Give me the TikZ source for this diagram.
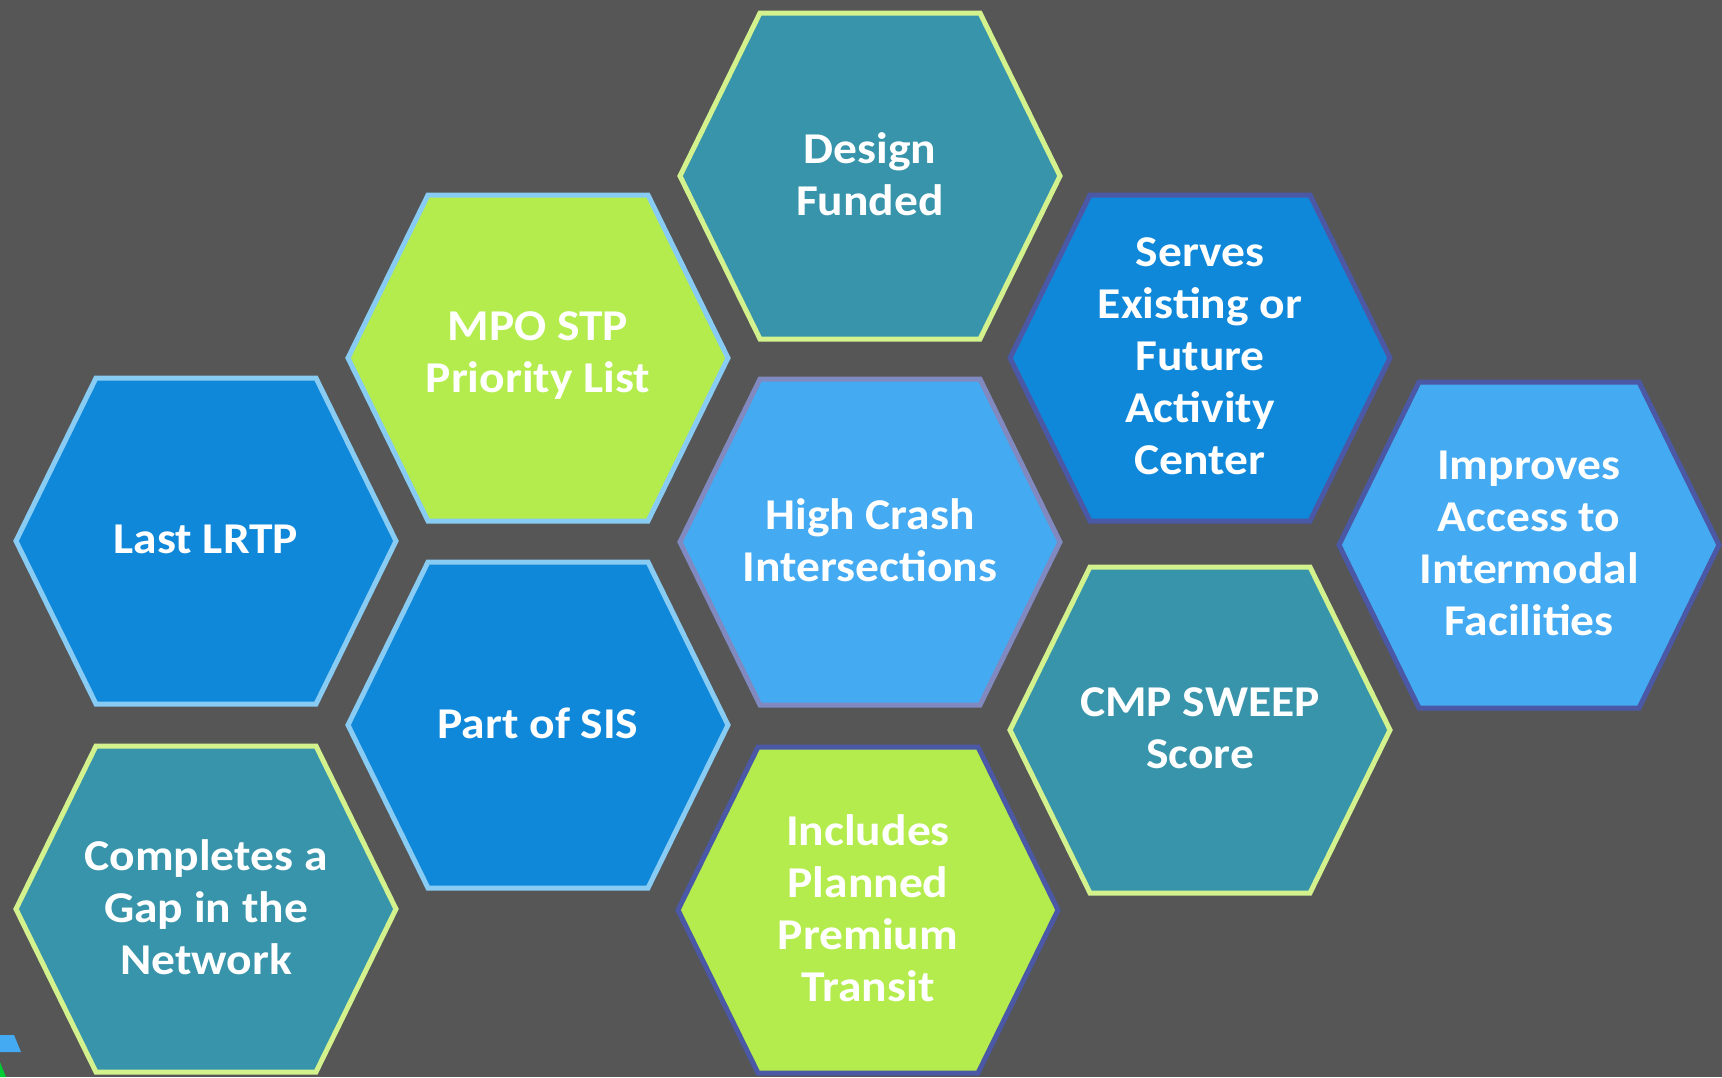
\documentclass[tikz,border=0pt]{standalone}
\usepackage{fontspec}
\setmainfont{Carlito}[FakeStretch=1.08]
\definecolor{bgc}{HTML}{565656}
\definecolor{tealf}{HTML}{3794AA}
\definecolor{limef}{HTML}{B4EC4E}
\definecolor{darkbf}{HTML}{1088DA}
\definecolor{lightbf}{HTML}{44AAF2}
\definecolor{yellowb}{HTML}{D3F28E}
\definecolor{skyb}{HTML}{88CCF4}
\definecolor{navyb}{HTML}{4B58A5}
\definecolor{lavb}{HTML}{8189C1}
\tikzset{
  hexline/.style={line width=5pt, line join=miter},
  hextext/.style={text=white, align=center, font=\fontsize{44}{52}\selectfont\bfseries, inner sep=0pt}
}
\newcommand\hexcell[6]{%
  \draw[hexline, draw=#5, fill=#4] (#2,#3) +(-190,0) -- +(-110,-163) -- +(110,-163) -- +(190,0) -- +(110,163) -- +(-110,163) -- cycle;
  \node[hextext] (#1) at ([yshift=2pt]#2,#3) {#6};}
\begin{document}
\begin{tikzpicture}[x=1pt,y=-1pt]
\fill[bgc] (0,0) rectangle (1722,1077);
\useasboundingbox (0,0) rectangle (1722,1077);
% small fragment at the lower left edge
\fill[lightbf] (0,1035) -- (14,1035) -- (21,1052) -- (0,1052) -- cycle;
\fill[green!60!teal] (0,1062) -- (6,1077) -- (0,1077) -- cycle;
\hexcell{design}{870}{176}{tealf}{yellowb}{Design\\Funded}
\hexcell{mpo}{538}{358}{limef}{skyb}{MPO STP\\Priority List}
\hexcell{lrtp}{206}{541}{darkbf}{skyb}{Last LRTP}
\hexcell{sis}{538}{725}{darkbf}{skyb}{Part of SIS}
\hexcell{gap}{206}{909}{tealf}{yellowb}{Completes a\\Gap in the\\Network}
\hexcell{crash}{870}{542}{lightbf}{lavb}{High Crash\\Intersections}
\hexcell{transit}{868}{910}{limef}{navyb}{Includes\\Planned\\Premium\\Transit}
\hexcell{serves}{1200}{358}{darkbf}{navyb}{Serves\\Existing or\\Future\\Activity\\Center}
\hexcell{cmp}{1200}{730}{tealf}{yellowb}{CMP SWEEP\\Score}
\hexcell{access}{1529}{545}{lightbf}{navyb}{Improves\\Access to\\Intermodal\\Facilities}
\end{tikzpicture}
\end{document}
